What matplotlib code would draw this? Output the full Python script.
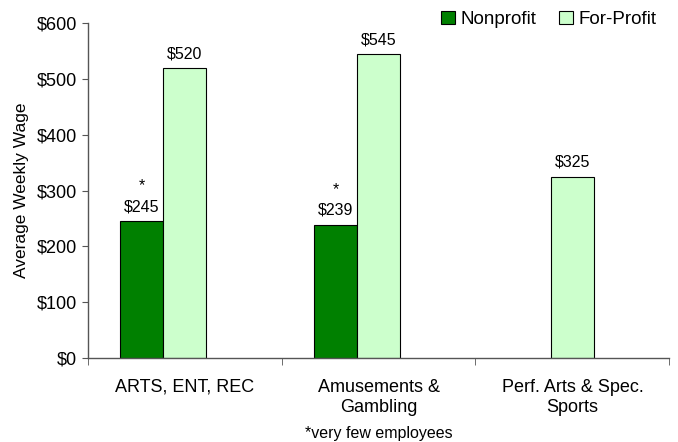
import numpy as np
import matplotlib
matplotlib.use('Agg')
from matplotlib import pyplot as plt

categories = ['ARTS, ENT, REC', 'Amusements &\nGambling', 'Perf. Arts & Spec.\nSports']
nonprofit = [245, 239, np.nan]
forprofit = [520, 545, 325]
few_employees = [True, True, False]

plt.rcParams['font.family'] = ['Liberation Sans', 'DejaVu Sans']

fig = plt.figure(figsize=(6.78, 4.42), dpi=100)
ax = fig.add_axes([0.1294, 0.19, 0.8578, 0.757])

x = np.arange(len(categories))
w = 1 / 4.5  # three slots per group, gap width 150%

np_vals = np.nan_to_num(nonprofit)
b1 = ax.bar(x - w, np_vals, w, color='#008000', edgecolor='black', linewidth=0.8, label='Nonprofit')
b2 = ax.bar(x, forprofit, w, color='#CCFFCC', edgecolor='black', linewidth=0.8, label='For-Profit')

for i, v in enumerate(nonprofit):
    if np.isnan(v):
        b1[i].set_visible(False)
        continue
    ax.annotate('${:.0f}'.format(v), (x[i] - w, v), xytext=(0, 5), textcoords='offset points',
                ha='center', va='bottom', fontsize=11.5)
    if few_employees[i]:
        ax.annotate('*', (x[i] - w, v), xytext=(0, 20), textcoords='offset points',
                    ha='center', va='bottom', fontsize=11.5)
for i, v in enumerate(forprofit):
    ax.annotate('${:.0f}'.format(v), (x[i], v), xytext=(0, 5), textcoords='offset points',
                ha='center', va='bottom', fontsize=11.5)

ax.set_xlim(-0.5, len(categories) - 0.5)
ax.set_ylim(0, 600)
ax.set_yticks(range(0, 601, 100))
ax.set_yticklabels(['${}'.format(t) for t in range(0, 601, 100)], fontsize=13)
ax.set_ylabel('Average Weekly Wage', fontsize=12.5, labelpad=6)

ax.set_xticks(x)
ax.set_xticklabels(categories, fontsize=13, linespacing=1.25)
ax.tick_params(axis='x', which='major', length=0, pad=15)
ax.set_xticks(np.arange(-0.5, len(categories), 1.0), minor=True)
ax.tick_params(axis='x', which='minor', length=5, direction='out', color='#555555')
ax.tick_params(axis='y', length=4, direction='out', color='#555555')

for s in ['top', 'right']:
    ax.spines[s].set_visible(False)
for s in ['left', 'bottom']:
    ax.spines[s].set_color('#555555')
    ax.spines[s].set_linewidth(1.0)

fig.legend(loc='upper right', bbox_to_anchor=(0.993, 1.014), ncol=2, frameon=False,
           fontsize=13.5, handlelength=0.75, handleheight=0.75, handletextpad=0.3,
           columnspacing=1.2)

fig.text(0.5 * (0.1294 + 0.9872), 0.02, '*very few employees', ha='center', va='center', fontsize=11.5)

plt.savefig('out.png', dpi=100)
